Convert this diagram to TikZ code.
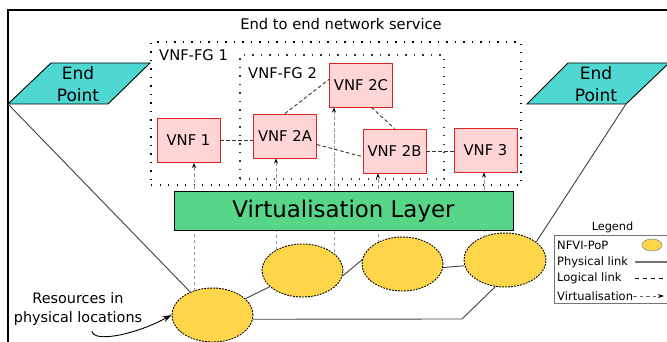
\documentclass[tikz,border=0pt]{standalone}
\usepackage{fontspec}
\setmainfont{DejaVu Sans}
\usetikzlibrary{arrows.meta,shapes.geometric}
\definecolor{vnffill}{HTML}{FFD5D5}
\definecolor{vnfline}{HTML}{DD2222}
\definecolor{epfill}{HTML}{4FD8D1}
\definecolor{vlfill}{HTML}{57D687}
\definecolor{popfill}{HTML}{FFD54A}
\begin{document}
\begin{tikzpicture}[x=1pt,y=-1pt,
  vnf/.style={draw=vnfline,fill=vnffill,line width=0.9pt,minimum width=63pt,minimum height=44pt,inner sep=0pt,font=\fontsize{14.8}{18}\selectfont},
  pop/.style={ellipse,draw=black,fill=popfill,line width=0.9pt,dash pattern=on 1.8pt off 1.2pt,inner sep=0pt,minimum width=81pt,minimum height=54pt},
  vlbox/.style={draw=black,fill=vlfill,line width=1pt,minimum width=339pt,minimum height=38pt,inner sep=0pt,font=\fontsize{22.9}{26}\selectfont},
  eptext/.style={align=center,inner sep=0pt,font=\fontsize{17}{22.4}\selectfont},
  epshape/.style={draw=black,fill=epfill,line width=0.9pt},
  fgA/.style={draw=black,line width=1.4pt,dash pattern=on 1.4pt off 7.1pt,inner sep=0pt},
  fgB/.style={draw=black!80,line width=1.1pt,dash pattern=on 1.1pt off 7.4pt,inner sep=0pt},
  lbl/.style={inner sep=0pt,font=\fontsize{14.7}{18}\selectfont},
  phys/.style={draw=black!75,line width=0.9pt},
  logic/.style={draw=black!80,line width=0.9pt,dash pattern=on 3.5pt off 2.5pt},
  virt/.style={draw=black!40,line width=0.9pt,dash pattern=on 3.5pt off 2.5pt,-{Stealth[length=5pt,width=4pt,black]}},
  legtext/.style={anchor=west,inner sep=0pt,font=\fontsize{11.5}{13}\selectfont}
]
\useasboundingbox (0,0) rectangle (667,342);
\clip (0,0) rectangle (667,342);

% outer frame
\draw[line width=1.4pt] (8,10) rectangle (720,400);
\node[lbl] (title) at (341,24) {End to end network service};

% forwarding graphs
\node[fgA,minimum width=370pt,minimum height=143pt] (fg1box) at (336,113.5) {};
\node[lbl,anchor=west] (fg1) at (159,55) {VNF-FG 1};
\node[fgB,minimum width=204pt,minimum height=124pt] (fg2box) at (342,117) {};
\node[lbl,anchor=west] (fg2) at (248,73) {VNF-FG 2};

% PoP positions
\path (212.5,315) coordinate (c1) (302.5,270.5) coordinate (c2) (402.5,264) coordinate (c3) (505,260) coordinate (c4);

% VNFs
\node[vnf] (vnf1) at (188.5,140.5) {VNF 1};
\node[vnf] (vnf2a) at (285,136) {VNF 2A};
\node[vnf] (vnf2c) at (361,85) {VNF 2C};
\node[vnf] (vnf2b) at (394.5,151) {VNF 2B};
\node[vnf] (vnf3) at (485.5,150) {VNF 3};

% virtualisation arrows (behind layer)
\coordinate (v1) at (194,291);
\coordinate (v2) at (276,250);
\coordinate (v3) at (334,252);
\coordinate (v4) at (378,243);
\coordinate (v5) at (484,238);
\draw[virt] (v1) -- (v1 |- vnf1.south);
\draw[virt] (v2) -- (v2 |- vnf2a.south);
\draw[virt] (v3) -- (v3 |- vnf2c.south);
\draw[virt] (v4) -- (v4 |- vnf2b.south);
\draw[virt] (v5) -- (v5 |- vnf3.south);

% virtualisation layer
\node[vlbox] (vl) at (343.5,211) {Virtualisation Layer};

% PoPs
\node[pop] (e1) at (c1) {};
\node[pop,minimum height=53pt] (e2) at (c2) {};
\node[pop] (e3) at (c3) {};
\node[pop,minimum width=82pt] (e4) at (c4) {};

% physical links
\coordinate (bend) at (462,319);
\draw[phys] (e1) -- (e2);
\draw[phys] (e2.-8) -- (e3.-186);
\draw[phys] (e3.-5) -- (e4.-172);
\draw[phys] (e1.-6) -- (bend) -- (e4.-110);

% logical links
\draw[logic] (vnf1.east) -- (vnf2a.west |- vnf1.east);
\draw[logic] (vnf2a.north) -- (vnf2c.170);
\draw[logic] (vnf2c.-65) -- (vnf2b.north);
\draw[logic] (vnf2a.-15) -- (vnf2b.-170);
\draw[logic] (vnf2b.east) -- (vnf3.west |- vnf2b.east);

% end points
\draw[epshape] (8,104) -- (51,63) -- (150,63) -- (108,104) -- cycle;
\node[eptext] (epL) at (78,84) {End\\Point};
\coordinate (epLc) at (8,104);
\draw[epshape] (527,104) -- (568,63) -- (669,63) -- (626,104) -- cycle;
\node[eptext] (epR) at (596,84) {End\\Point};
\coordinate (epRc) at (626,104);
\draw[phys] (epLc) -- (e1);
\draw[phys] (epRc) -- (e4.30);

% resources label
\node[align=center,inner sep=0pt,font=\fontsize{14.4}{19}\selectfont] (res) at (78,308.7) {Resources in\\physical locations};
\coordinate (rstart) at (92,331);
\draw[black,line width=0.9pt,-{Stealth[length=9pt,width=6pt]}] (rstart) .. controls (93,343) and (135,335) .. (e1.west);

% legend
\node[inner sep=0pt,font=\fontsize{11.3}{13}\selectfont] (legt) at (612.5,227) {Legend};
\draw[draw=black!55,line width=0.9pt] (554,235) rectangle (720,303);
\node[legtext] (l1) at (557,245) {NFVI-PoP};
\node[legtext] (l2) at (557,262) {Physical link};
\node[legtext] (l3) at (557,278) {Logical link};
\node[legtext] (l4) at (557,296) {Virtualisation};
\node[ellipse,draw=black!45,fill=popfill,line width=0.6pt,minimum width=20pt,minimum height=12pt,inner sep=0pt] (lpop) at (652,245) {};
\coordinate (lp1) at (635,262);
\coordinate (lp2) at (690,262);
\draw[draw=black!55,line width=1.1pt] (lp1) -- (lp2);
\coordinate (ll1) at (635,278);
\coordinate (ll2) at (690,278);
\draw[draw=black,line width=0.9pt,dash pattern=on 4pt off 4pt] (ll1) -- (ll2);
\coordinate (lv1) at (633,296);
\coordinate (lv2) at (664,296);
\draw[draw=black!60,line width=0.9pt,dash pattern=on 3.5pt off 3pt,-{Stealth[length=6pt,width=4pt,black]}] (lv1) -- (lv2);
\end{tikzpicture}
\end{document}
